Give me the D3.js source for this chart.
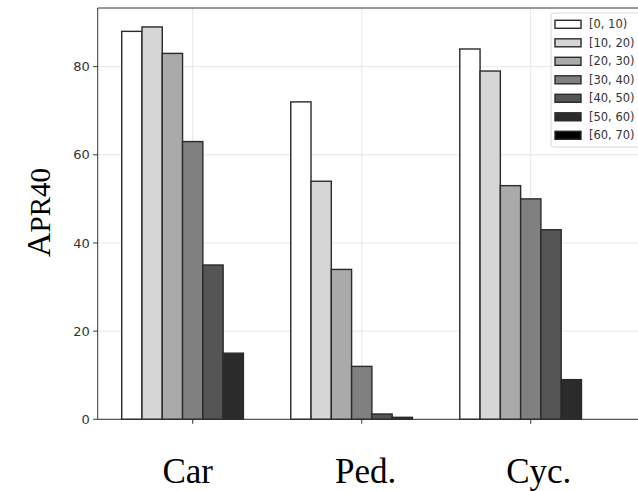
<!DOCTYPE html>
<html>
<head>
<meta charset="utf-8">
<script src="https://cdn.jsdelivr.net/npm/d3@7"></script>
<style>
  body { margin: 0; background: #fff; }
  svg { display: block; }
</style>
</head>
<body>
<div id="chart"></div>
<script>
// data
var groups = ["Car", "Ped.", "Cyc."];
var bins = ["[0, 10)", "[10, 20)", "[20, 30)", "[30, 40)", "[40, 50)", "[50, 60)", "[60, 70)"];
var carValues = [88, 89, 83, 63, 35, 15, 0];
var pedValues = [72, 54, 34, 12, 1.2, 0.45, 0];
var cycValues = [84, 79, 53, 50, 43, 9, 0];
var yTicks = [0, 20, 40, 60, 80];
var binColors = ["#ffffff", "#d6d6d6", "#aaaaaa", "#808080", "#555555", "#2b2b2b", "#000000"];

var seriesByGroup = [carValues, pedValues, cycValues];

var width = 638, height = 491;

var svg = d3.select("#chart")
  .append("svg")
  .attr("width", width)
  .attr("height", height);

// plot area (right edge runs off the picture like in the reference)
var plotLeft = 97.7, plotTop = 8, plotBottom = 419.3;
var barW = 0.12;

var x = d3.scaleLinear()
  .domain([-0.562, 0])
  .range([plotLeft, 192.7]);
var plotRight = x(2.9);

var y = d3.scaleLinear()
  .domain([0, 93.3])
  .range([plotBottom, plotTop]);

// grid
var grid = svg.append("g");
grid.selectAll(".gy")
  .data(yTicks)
  .enter()
  .append("line")
  .attr("x1", plotLeft).attr("x2", plotRight)
  .attr("y1", d => y(d)).attr("y2", d => y(d))
  .attr("stroke", "#e6e6e6")
  .attr("stroke-width", 1);
grid.selectAll(".gx")
  .data(groups)
  .enter()
  .append("line")
  .attr("x1", (d, i) => x(i)).attr("x2", (d, i) => x(i))
  .attr("y1", plotTop).attr("y2", plotBottom)
  .attr("stroke", "#e6e6e6")
  .attr("stroke-width", 1);

// bars
var flat = [];
seriesByGroup.forEach(function(vals, gi) {
  vals.forEach(function(v, bi) {
    flat.push({ g: gi, b: bi, v: v });
  });
});

svg.append("g")
  .selectAll("rect")
  .data(flat)
  .enter()
  .append("rect")
  .attr("x", d => x(d.g - 3.5 * barW + d.b * barW))
  .attr("width", d => x(barW) - x(0))
  .attr("y", d => y(d.v))
  .attr("height", d => y(0) - y(d.v))
  .attr("fill", d => binColors[d.b])
  .attr("stroke", "#2a2a2a")
  .attr("stroke-width", 1.4);

// spines
svg.append("path")
  .attr("d", "M" + plotRight + "," + plotTop + "H" + plotLeft + "V" + plotBottom + "H" + plotRight)
  .attr("fill", "none")
  .attr("stroke", "#333")
  .attr("stroke-width", 1);

// y ticks
var yAxis = svg.append("g");
yAxis.selectAll("line")
  .data(yTicks)
  .enter()
  .append("line")
  .attr("x1", plotLeft - 4.5).attr("x2", plotLeft)
  .attr("y1", d => y(d)).attr("y2", d => y(d))
  .attr("stroke", "#333");
yAxis.selectAll("text")
  .data(yTicks)
  .enter()
  .append("text")
  .attr("x", plotLeft - 8)
  .attr("y", d => y(d))
  .attr("dy", "0.36em")
  .attr("text-anchor", "end")
  .attr("font-family", "DejaVu Sans")
  .attr("font-size", 13)
  .attr("fill", "#333")
  .text(d => d);

// x ticks (group names were placed a little off the ticks in the original)
var labelNudge = [-5, 4, 8];
var xAxis = svg.append("g");
xAxis.selectAll("line")
  .data(groups)
  .enter()
  .append("line")
  .attr("x1", (d, i) => x(i)).attr("x2", (d, i) => x(i))
  .attr("y1", plotBottom).attr("y2", plotBottom + 4.5)
  .attr("stroke", "#333");
xAxis.selectAll("text")
  .data(groups)
  .enter()
  .append("text")
  .attr("x", (d, i) => x(i) + labelNudge[i])
  .attr("y", 483)
  .attr("text-anchor", "middle")
  .attr("font-family", "Liberation Serif")
  .attr("font-size", 35)
  .attr("fill", "#000")
  .text(d => d);

// y label
var yl = svg.append("text")
  .attr("transform", "translate(50,257) rotate(-90)")
  .attr("font-family", "Liberation Serif")
  .attr("fill", "#000");
yl.append("tspan").attr("font-size", 34).text("A");
yl.append("tspan").attr("font-size", 29).text("PR40");

// legend
var lg = svg.append("g").attr("transform", "translate(551,13)");
lg.append("rect")
  .attr("width", 110).attr("height", 134)
  .attr("rx", 3)
  .attr("fill", "#fff")
  .attr("fill-opacity", 0.85)
  .attr("stroke", "#d8d8d8");
var items = lg.selectAll(".item")
  .data(bins)
  .enter()
  .append("g")
  .attr("transform", (d, i) => "translate(0," + (11.3 + i * 18.5) + ")");
items.append("rect")
  .attr("x", 4).attr("y", -4)
  .attr("width", 26).attr("height", 8)
  .attr("fill", (d, i) => binColors[i])
  .attr("stroke", "#2a2a2a")
  .attr("stroke-width", 1.4);
items.append("text")
  .attr("x", 38)
  .attr("dy", "0.36em")
  .attr("font-family", "DejaVu Sans")
  .attr("font-size", 11.5)
  .attr("fill", "#333")
  .text(d => d);
</script>
</body>
</html>
